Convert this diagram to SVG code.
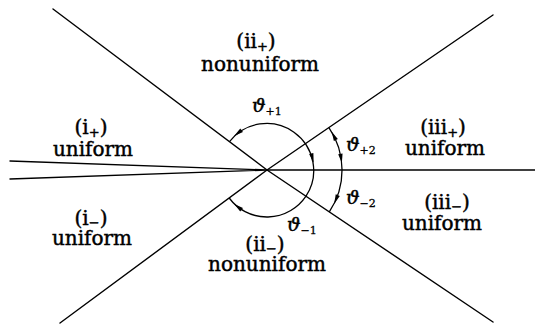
<svg xmlns="http://www.w3.org/2000/svg" xmlns:xlink="http://www.w3.org/1999/xlink" width="535" height="325" viewBox="0 0 535 325">
<style>
.ln{fill:none;stroke:#000;stroke-width:1.4;stroke-linecap:round}
.arc{fill:none;stroke:#000;stroke-width:1.3}
.lbl{font-family:"DejaVu Serif","Liberation Serif",serif;font-size:20px;fill:#000;text-anchor:middle;stroke:#000;stroke-width:0.45}
.sg{font-size:13px}
.th{font-family:"DejaVu Serif","Liberation Serif",serif;font-size:19px;font-style:italic;fill:#000;stroke:#000;stroke-width:0.5}
.ts{font-size:11px;font-style:normal;stroke-width:0.3}
.ah{fill:#000}
</style>
<defs>
<path id="inc" class="ah" d="M0,5 L2.2,-4.5 L-2.2,-4.5 Z"/>
<path id="dec" class="ah" d="M0,-5 L2.2,4.5 L-2.2,4.5 Z"/>
</defs>
<g id="connectors">
<path class="ln" d="M267,170 L53,9"/>
<path class="ln" d="M267,170 L493,322"/>
<path class="ln" d="M267,170 L493,15"/>
<path class="ln" d="M267,170 L60,323"/>
<path class="ln" d="M267,170 L535,170"/>
<path class="ln" d="M10,161 L267,170 L10,179"/>
<path class="arc" d="M229.5,141.7 A47,47 0 0 1 306,196.2"/>
<path class="arc" d="M229.2,198 A47,47 0 0 0 306,196.2"/>
<path class="arc" d="M328.9,127.6 A75,75 0 0 1 329.3,211.8"/>
<use xlink:href="#dec" transform="translate(267,170) rotate(232) translate(47,0)"/>
<use xlink:href="#inc" transform="translate(267,170) rotate(345) translate(47,0)"/>
<use xlink:href="#inc" transform="translate(267,170) rotate(128) translate(47,0)"/>
<use xlink:href="#dec" transform="translate(267,170) rotate(-27) translate(75,0)"/>
<use xlink:href="#inc" transform="translate(267,170) rotate(-9) translate(75,0)"/>
<use xlink:href="#inc" transform="translate(267,170) rotate(23) translate(75,0)"/>
</g>
<g id="region-ii-plus">
<text class="lbl" x="256" y="48">(ii<tspan class="sg" dy="3">+</tspan><tspan dy="-3">)</tspan></text>
<text class="lbl" x="260" y="71">nonuniform</text>
</g>
<g id="region-i-plus">
<text class="lbl" x="91" y="134">(i<tspan class="sg" dy="3">+</tspan><tspan dy="-3">)</tspan></text>
<text class="lbl" x="93" y="156">uniform</text>
</g>
<g id="region-iii-plus">
<text class="lbl" x="443" y="134">(iii<tspan class="sg" dy="3">+</tspan><tspan dy="-3">)</tspan></text>
<text class="lbl" x="445" y="155">uniform</text>
</g>
<g id="region-i-minus">
<text class="lbl" x="91" y="225">(i<tspan class="sg" dy="2">−</tspan><tspan dy="-2">)</tspan></text>
<text class="lbl" x="92" y="245">uniform</text>
</g>
<g id="region-iii-minus">
<text class="lbl" x="447" y="209">(iii<tspan class="sg" dy="2">−</tspan><tspan dy="-2">)</tspan></text>
<text class="lbl" x="442" y="230">uniform</text>
</g>
<g id="region-ii-minus">
<text class="lbl" x="265" y="251">(ii<tspan class="sg" dy="2">−</tspan><tspan dy="-2">)</tspan></text>
<text class="lbl" x="267" y="271">nonuniform</text>
</g>
<g id="angles">
<text class="th" x="252" y="112">ϑ<tspan class="ts" dy="3">+1</tspan></text>
<text class="th" x="287" y="231">ϑ<tspan class="ts" dy="3">−1</tspan></text>
<text class="th" x="346" y="151">ϑ<tspan class="ts" dy="3">+2</tspan></text>
<text class="th" x="346" y="204">ϑ<tspan class="ts" dy="3">−2</tspan></text>
</g>
</svg>
